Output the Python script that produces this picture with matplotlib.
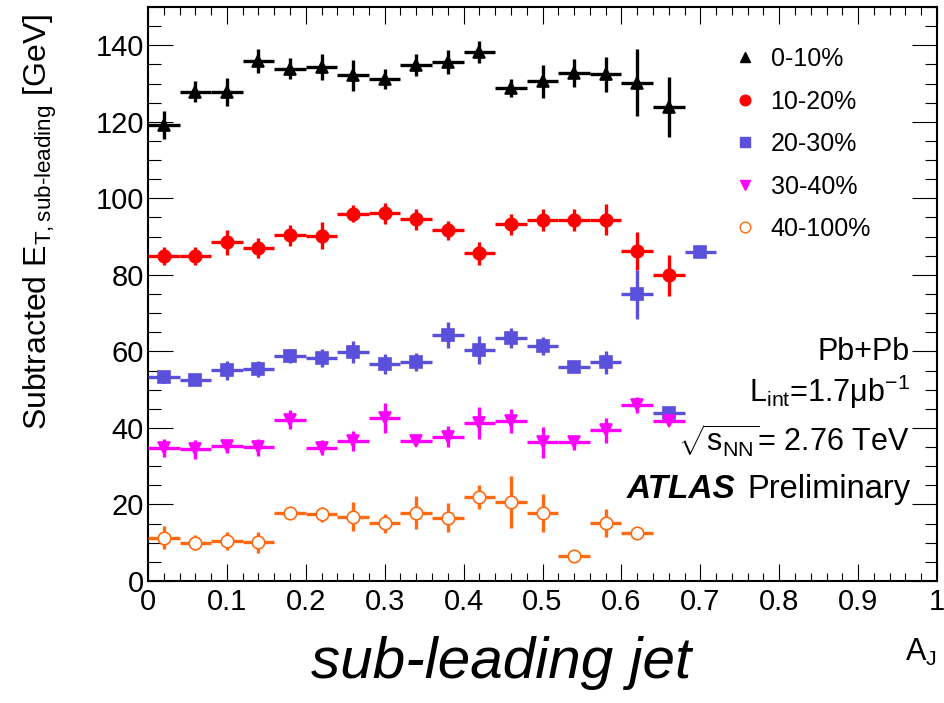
import matplotlib
matplotlib.use("Agg")
import matplotlib.pyplot as plt
from matplotlib.ticker import MultipleLocator
from matplotlib.lines import Line2D

plt.rcParams["font.family"] = ["Liberation Sans", "DejaVu Sans"]
plt.rcParams["mathtext.fontset"] = "custom"
plt.rcParams["mathtext.rm"] = "Liberation Sans"
plt.rcParams["mathtext.it"] = "Liberation Sans:italic"
plt.rcParams["mathtext.bf"] = "Liberation Sans:bold"

# A_J bin centres (bin width 0.04)
aj_centers = [0.02, 0.06, 0.10, 0.14, 0.18, 0.22, 0.26, 0.30, 0.34,
              0.38, 0.42, 0.46, 0.50, 0.54, 0.58, 0.62, 0.66, 0.70]
bin_half_width = 0.02

cent_labels = ["0-10%", "10-20%", "20-30%", "30-40%", "40-100%"]

et_0_10 = [119.2, 127.9, 127.8, 135.9, 133.9, 134.3, 132.1, 131.2, 134.8,
           135.6, 138.2, 128.9, 130.6, 132.8, 132.4, 130.2, 123.8]
err_0_10 = [3.7, 2.7, 3.7, 3.2, 2.8, 3.3, 4.1, 2.5, 2.9,
            3.2, 2.8, 2.4, 4.3, 3.6, 4.6, 8.8, 7.8]

et_10_20 = [85.0, 84.9, 88.5, 87.1, 90.3, 90.2, 96.0, 96.1, 94.5,
            91.6, 85.7, 93.2, 94.3, 94.3, 94.4, 86.2, 79.9]
err_10_20 = [2.3, 2.4, 3.3, 2.6, 2.8, 3.5, 2.2, 2.7, 2.7,
             2.4, 3.0, 2.7, 2.9, 2.9, 4.0, 4.9, 5.4]

et_20_30 = [53.2, 52.5, 55.1, 55.4, 58.8, 58.3, 59.8, 56.6, 57.3,
            64.4, 60.3, 63.6, 61.4, 55.8, 57.1, 74.9, 44.0, 86.1]
err_20_30 = [1.5, 1.0, 2.5, 2.0, 1.8, 2.4, 2.9, 2.6, 2.4,
             3.4, 3.6, 2.6, 2.4, 1.0, 3.0, 6.4, 1.0, 1.0]

et_30_40 = [34.8, 34.4, 35.2, 34.9, 42.2, 34.8, 36.6, 42.6, 36.6,
            37.7, 41.3, 41.8, 36.2, 36.2, 39.4, 46.1, 41.8]
err_30_40 = [2.4, 2.4, 1.7, 2.3, 2.5, 2.0, 2.6, 4.0, 1.0,
             2.7, 4.3, 3.1, 4.0, 1.9, 3.3, 2.1, 1.0]

et_40_100 = [11.3, 10.0, 10.5, 10.1, 17.8, 17.4, 16.8, 15.1, 17.9,
             16.5, 22.0, 20.7, 17.7, 6.5, 15.1, 12.6]
err_40_100 = [3.0, 2.0, 2.4, 2.7, 1.0, 2.0, 3.8, 2.5, 4.4,
              3.8, 3.2, 6.8, 5.0, 1.0, 3.7, 1.0]

series = [
    (et_0_10, err_0_10, "^", "black", "black", 8.5),
    (et_10_20, err_10_20, "o", "#ff0000", "#ff0000", 9),
    (et_20_30, err_20_30, "s", "#5a50dc", "#5a50dc", 8.5),
    (et_30_40, err_30_40, "v", "#ff00ff", "#ff00ff", 8.5),
    (et_40_100, err_40_100, "o", "#ff6a10", "white", 9),
]

fig = plt.figure(figsize=(9.44, 7.03), dpi=100)
ax = fig.add_axes([148 / 944, 1 - 581 / 703, 789 / 944, 574 / 703])

for vals, errs, mk, col, face, ms in series:
    n = len(vals)
    ax.errorbar(aj_centers[:n], vals, xerr=bin_half_width, yerr=errs,
                fmt=mk, color=col, mfc=face, mec=col, ms=ms, mew=1.2,
                elinewidth=2.4, capsize=0, zorder=3)

ax.set_xlim(0, 1)
ax.set_ylim(0, 150)
ax.xaxis.set_minor_locator(MultipleLocator(0.02))
ax.yaxis.set_minor_locator(MultipleLocator(5))
ax.set_xticks([0, 0.1, 0.2, 0.3, 0.4, 0.5, 0.6, 0.7, 0.8, 0.9, 1.0])
ax.set_xticklabels(["0", "0.1", "0.2", "0.3", "0.4", "0.5", "0.6", "0.7",
                    "0.8", "0.9", "1"])
ax.set_yticks([0, 20, 40, 60, 80, 100, 120, 140])

ax.tick_params(axis="both", which="both", direction="in", top=True,
               right=True, width=0.8, labelsize=21)
ax.tick_params(axis="x", which="major", length=12.5, pad=5)
ax.tick_params(axis="x", which="minor", length=6)
ax.tick_params(axis="y", which="major", length=18, pad=3)
ax.tick_params(axis="y", which="minor", length=9)
for sp in ax.spines.values():
    sp.set_linewidth(1.5)

handles = [Line2D([], [], linestyle="none", marker=mk, color=col, mfc=face,
                  mec=col, ms=ms * 0.85, mew=1.0)
           for _, _, mk, col, face, ms in series]
ax.legend(handles, cent_labels, loc="upper left",
          bbox_to_anchor=((733 - 148) / 789, (581 - 47) / 574),
          frameon=False, fontsize=18, handlelength=0.95, handletextpad=0.55,
          labelspacing=0.74, borderpad=0, borderaxespad=0)

xr = (910 - 148) / 789
ax.text(xr, 59.8, "Pb+Pb", ha="right", va="center", fontsize=22)
ax.text(xr, 49.3, r"$\mathrm{L_{int}}$=1.7$\mathrm{\mu}$b$^{\mathrm{-1}}$",
        ha="right", va="center", fontsize=22)
ax.text(xr, 36.6, r"$\sqrt{\mathrm{s_{NN}}}$= 2.76 TeV",
        ha="right", va="center", fontsize=22)
prelim = ax.text(xr, 23.8, "Preliminary", ha="right", va="center",
                 fontsize=23.5)
fig.canvas.draw()
bb = prelim.get_window_extent()
x_end = ax.transData.inverted().transform((bb.x0 - 11, bb.y0))[0]
ax.text(x_end, 23.8, "ATLAS", ha="right", va="center", fontsize=24,
        fontweight="bold", fontstyle="italic")

fig.text(0.043, 1 - 14 / 703,
         r"Subtracted E$_{\mathrm{T,sub\text{-}leading}}$ [GeV]",
         rotation=90, ha="center", va="top", fontsize=23)
fig.text(937 / 944, 1 - 661 / 703, r"A$_{\mathrm{J}}$", ha="right",
         va="baseline", fontsize=22)
fig.text(501 / 944, 1 - 678 / 703, "sub-leading jet", ha="center",
         va="baseline", fontsize=42, fontstyle="italic")

fig.savefig("out.png", dpi=100)
